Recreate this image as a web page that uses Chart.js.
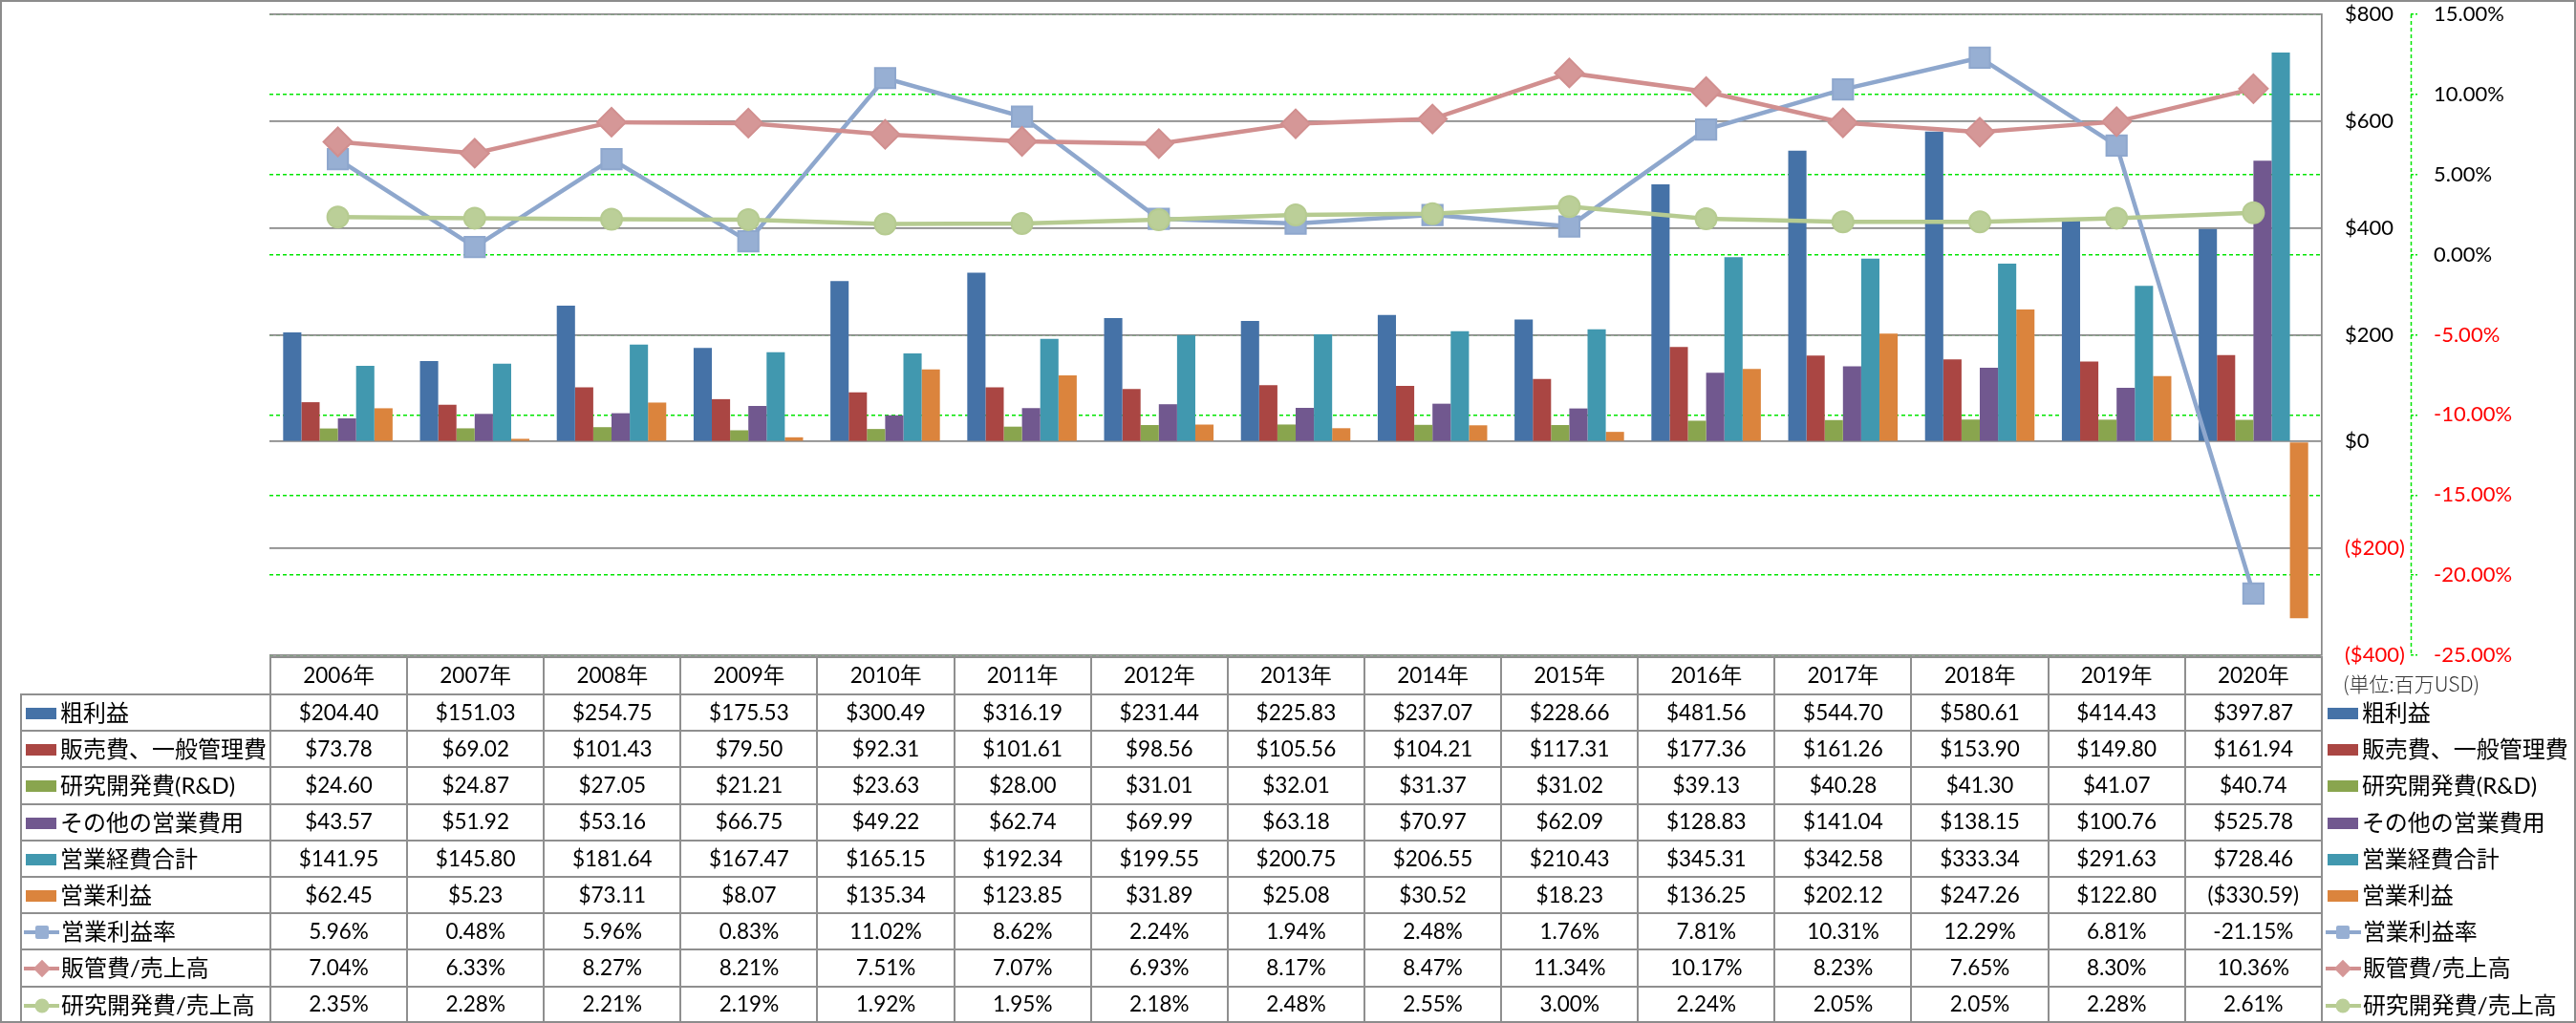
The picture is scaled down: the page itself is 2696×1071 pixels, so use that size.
<!DOCTYPE html>
<html>
<head>
<meta charset="utf-8">
<title>営業利益の推移</title>
<script src="https://cdn.jsdelivr.net/npm/chart.js@4.4.1/dist/chart.umd.min.js"></script>
<style>
  html, body { margin: 0; padding: 0; background: #fff; }
  #marco { position: relative; width: 2696px; height: 1071px; overflow: hidden; background: #fff;
           font-family: Lato, "Noto Sans CJK JP", sans-serif; color: #000; }
  #grafico { position: absolute; left: 0; top: 0; }
  #borde { position: absolute; left: 0; top: 0; width: 2696px; height: 1071px; box-sizing: border-box;
           border: 2px solid #8c8c8c; pointer-events: none; }
  #tabla { position: absolute; left: 21px; top: 687px; border-collapse: collapse; table-layout: fixed; }
  #tabla th, #tabla td { border: 2px solid #8f8f8f; padding: 0; text-align: center; font-weight: normal;
           white-space: nowrap; font-size: 22.5px; line-height: 1; overflow: visible; }
  #tabla tr.cabecera { height: 39px; }
  #tabla tr.fila { height: 38.2px; }
  #tabla th.vacio { border: none; }
  #tabla td.nombre { text-align: left; padding-left: 4px; font-size: 24px; }
  #tabla td.derecha, #tabla th.derecha { border-top: none; border-bottom: none; border-right: none;
           text-align: left; padding-left: 5px; font-size: 24px; }
  #tabla th.derecha { vertical-align: top; padding-top: 17px; padding-left: 21px; font-size: 21px;
           color: #333; font-family: "Noto Sans CJK JP", sans-serif; font-weight: 300; }
  .clave { display: inline-block; width: 32px; height: 12px; vertical-align: middle; margin-right: 4px; position: relative; top: -2px; }
  .claveL { display: inline-block; width: 37px; height: 18px; vertical-align: middle; margin-right: 2px;
           margin-left: -2px; position: relative; top: -2px; }
  .claveL i { position: absolute; left: 0; right: 0; top: 7px; height: 4px; }
  .claveL b { position: absolute; left: 50%; top: 50%; }
  .mk-cuadrado { width: 14px; height: 14px; border-radius: 2px; transform: translate(-50%, -50%); }
  .mk-rombo { width: 13px; height: 13px; transform: translate(-50%, -50%) rotate(45deg); }
  .mk-circulo { width: 15px; height: 15px; border-radius: 50%; transform: translate(-50%, -50%); }
</style>
</head>
<body>
<div id="marco">
  <canvas id="grafico" width="2696" height="712"></canvas>
  <table id="tabla"></table>
  <div id="borde"></div>
</div>
<script>
// Datos (百万USD)
var anios = ['2006年', '2007年', '2008年', '2009年', '2010年', '2011年', '2012年', '2013年',
             '2014年', '2015年', '2016年', '2017年', '2018年', '2019年', '2020年'];

var grossProfit = [204.40, 151.03, 254.75, 175.53, 300.49, 316.19, 231.44, 225.83, 237.07, 228.66, 481.56, 544.70, 580.61, 414.43, 397.87];
var sgaExpense = [73.78, 69.02, 101.43, 79.50, 92.31, 101.61, 98.56, 105.56, 104.21, 117.31, 177.36, 161.26, 153.90, 149.80, 161.94];
var rdExpense = [24.60, 24.87, 27.05, 21.21, 23.63, 28.00, 31.01, 32.01, 31.37, 31.02, 39.13, 40.28, 41.30, 41.07, 40.74];
var otherExpense = [43.57, 51.92, 53.16, 66.75, 49.22, 62.74, 69.99, 63.18, 70.97, 62.09, 128.83, 141.04, 138.15, 100.76, 525.78];
var totalExpense = [141.95, 145.80, 181.64, 167.47, 165.15, 192.34, 199.55, 200.75, 206.55, 210.43, 345.31, 342.58, 333.34, 291.63, 728.46];
var operatingProfit = [62.45, 5.23, 73.11, 8.07, 135.34, 123.85, 31.89, 25.08, 30.52, 18.23, 136.25, 202.12, 247.26, 122.80, -330.59];

// Porcentajes (%)
var operatingMargin = [5.96, 0.48, 5.96, 0.83, 11.02, 8.62, 2.24, 1.94, 2.48, 1.76, 7.81, 10.31, 12.29, 6.81, -21.15];
var sgaRatio = [7.04, 6.33, 8.27, 8.21, 7.51, 7.07, 6.93, 8.17, 8.47, 11.34, 10.17, 8.23, 7.65, 8.30, 10.36];
var rdRatio = [2.35, 2.28, 2.21, 2.19, 1.92, 1.95, 2.18, 2.48, 2.55, 3.00, 2.24, 2.05, 2.05, 2.28, 2.61];

// Marcas de los ejes
var ticksDolar = [-400, -200, 0, 200, 400, 600, 800];
var ticksPct = [-25, -20, -15, -10, -5, 0, 5, 10, 15];

var nombresBarras = ['粗利益', '販売費、一般管理費', '研究開発費(R&D)', 'その他の営業費用', '営業経費合計', '営業利益'];
var nombresLineas = ['営業利益率', '販管費/売上高', '研究開発費/売上高'];
var unidad = '(単位:百万USD)';

var datosBarras = [grossProfit, sgaExpense, rdExpense, otherExpense, totalExpense, operatingProfit];
var datosLineas = [operatingMargin, sgaRatio, rdRatio];

var coloresBarras = ['#4572A7', '#AA4643', '#89A54E', '#71588F', '#4198AF', '#DB843D'];
var coloresLineas = ['#8EA7CD', '#D18F8F', '#B6CB91'];
var relleno = ['#97AFD3', '#D59797', '#BBCF98'];
var formas = ['rect', 'rectRot', 'circle'];
var radios = [15, 15, 11];
var ordenLineas = [2, 1, 0];
var clasesForma = ['mk-cuadrado', 'mk-rombo', 'mk-circulo'];

function dolar(v) {
  return v < 0 ? '($' + (-v).toFixed(2) + ')' : '$' + v.toFixed(2);
}
function pct(v) {
  return v.toFixed(2) + '%';
}

var datasets = [];
for (var i in datosLineas) {
  datasets.push({
    type: 'line',
    label: nombresLineas[i],
    data: datosLineas[i],
    yAxisID: 'y1',
    order: ordenLineas[i],
    borderColor: coloresLineas[i],
    borderWidth: 4.5,
    tension: 0,
    pointStyle: formas[i],
    pointRadius: radios[i],
    pointHoverRadius: radios[i],
    pointBackgroundColor: relleno[i],
    pointBorderColor: coloresLineas[i],
    pointBorderWidth: 2,
    clip: false
  });
}
for (var j in datosBarras) {
  datasets.push({
    type: 'bar',
    label: nombresBarras[j],
    data: datosBarras[j],
    yAxisID: 'y',
    order: 3,
    backgroundColor: coloresBarras[j],
    borderWidth: 0,
    categoryPercentage: 0.8,
    barPercentage: 1.0
  });
}

// Línea punteada verde del eje de porcentajes
var ejeVerde = {
  id: 'ejeVerde',
  afterDraw: function(chart) {
    var s = chart.scales.y1, ctx = chart.ctx;
    var x = Math.round(s.left) + 0.5;
    ctx.save();
    ctx.strokeStyle = '#00e600';
    ctx.lineWidth = 1.5;
    ctx.setLineDash([4, 3]);
    ctx.beginPath();
    ctx.moveTo(x, s.top);
    ctx.lineTo(x, s.bottom);
    ctx.stroke();
    ctx.restore();
  }
};

Chart.defaults.font.family = 'Lato, "Noto Sans CJK JP", sans-serif';
Chart.defaults.font.size = 22;
Chart.defaults.color = '#000';

var colorTick = function(c) {
  return c.tick && c.tick.value < 0 ? '#ff0000' : '#000000';
};

// Ancho fijo de cada eje, sin relleno extra arriba/abajo
function ajustarEje(ancho) {
  return function(s) {
    s.width = ancho;
    s.paddingTop = 0;
    s.paddingBottom = 0;
  };
}

var grafico = new Chart(document.getElementById('grafico'), {
  type: 'bar',
  data: { labels: anios, datasets: datasets },
  plugins: [ejeVerde],
  options: {
    responsive: false,
    devicePixelRatio: 1,
    animation: false,
    events: [],
    layout: { autoPadding: false, padding: { left: 282, top: 15, right: 0, bottom: 26 } },
    plugins: { legend: { display: false }, tooltip: { enabled: false } },
    scales: {
      x: { type: 'category', display: false, offset: true },
      y: {
        position: 'right',
        weight: 0,
        min: -400,
        max: 800,
        afterBuildTicks: function(s) { s.ticks = ticksDolar.map(function(v) { return { value: v }; }); },
        afterFit: ajustarEje(93),
        grid: { color: '#8a8a8a', lineWidth: 1.75, drawTicks: false, z: -1 },
        border: { display: true, color: '#8a8a8a', width: 1.75 },
        ticks: {
          padding: 24,
          color: colorTick,
          callback: function(v) { return v < 0 ? '($' + (-v) + ')' : '$' + v; }
        }
      },
      y1: {
        position: 'right',
        weight: 1,
        min: -25,
        max: 15,
        afterBuildTicks: function(s) { s.ticks = ticksPct.map(function(v) { return { value: v }; }); },
        afterFit: ajustarEje(173),
        grid: {
          color: '#00e600', lineWidth: 1.5, drawTicks: true, tickLength: 7,
          tickColor: '#00e600', tickWidth: 1.5, tickBorderDash: [3, 2], z: -2
        },
        border: { display: false, dash: [4, 3] },
        ticks: {
          padding: 17,
          color: colorTick,
          callback: function(v) { return pct(v); }
        }
      }
    }
  }
});

// Tabla de datos alineada con el eje x
var ejeX = grafico.scales.x;
var anchoCol = ejeX.width / anios.length;
var html = '<colgroup><col style="width:' + (ejeX.left - 21) + 'px">';
for (var c = 0; c < anios.length; c++) {
  html += '<col style="width:' + anchoCol + 'px">';
}
html += '<col style="width:' + (2696 - ejeX.right) + 'px"></colgroup>';

html += '<tr class="cabecera"><th class="vacio"></th>';
for (var k in anios) {
  html += '<th>' + anios[k] + '</th>';
}
html += '<th class="derecha">' + unidad + '</th></tr>';

function claveBarra(color) {
  return '<span class="clave" style="background:' + color + '"></span>';
}
function claveLinea(n) {
  return '<span class="claveL"><i style="background:' + coloresLineas[n] + '"></i>' +
         '<b class="' + clasesForma[n] + '" style="background:' + relleno[n] + '"></b></span>';
}

for (var b in datosBarras) {
  html += '<tr class="fila"><td class="nombre">' + claveBarra(coloresBarras[b]) + nombresBarras[b] + '</td>';
  for (var m in datosBarras[b]) {
    html += '<td>' + dolar(datosBarras[b][m]) + '</td>';
  }
  html += '<td class="derecha">' + claveBarra(coloresBarras[b]) + nombresBarras[b] + '</td></tr>';
}
for (var l in datosLineas) {
  html += '<tr class="fila"><td class="nombre">' + claveLinea(l) + nombresLineas[l] + '</td>';
  for (var p in datosLineas[l]) {
    html += '<td>' + pct(datosLineas[l][p]) + '</td>';
  }
  html += '<td class="derecha">' + claveLinea(l) + nombresLineas[l] + '</td></tr>';
}
document.getElementById('tabla').innerHTML = html;
</script>
</body>
</html>
